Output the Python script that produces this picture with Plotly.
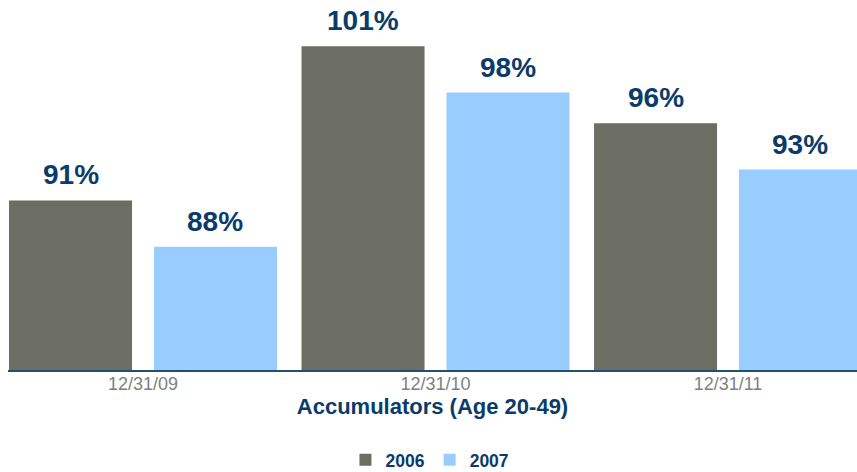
import plotly.graph_objects as go

# Funded-ratio data by valuation date
categories = ["12/31/09", "12/31/10", "12/31/11"]
series_names = ["2006", "2007"]
values_2006 = [91, 101, 96]
values_2007 = [88, 98, 93]
series_values = [values_2006, values_2007]
series_colors = ["#6C6D63", "#99CCFF"]

label_color = "#0B3B6B"
font_family = "Liberation Sans, Arial, sans-serif"

bar_width = 0.4205
bar_offsets = [-0.458, 0.0376]  # left edge of each series relative to category centre

fig = go.Figure()
for name, vals, color, off in zip(series_names, series_values, series_colors, bar_offsets):
    fig.add_trace(go.Bar(
        x=categories, y=vals, name=name,
        width=bar_width, offset=off,
        marker=dict(color=color, line=dict(width=0)),
        hoverinfo="x+y+name",
    ))

# Value labels above each bar
for vals, off in zip(series_values, bar_offsets):
    for cat, v in zip(categories, vals):
        fig.add_annotation(
            x=cat, y=v, xref="x", yref="y",
            text=f"<b>{v}%</b>", showarrow=False,
            xanchor="center", yanchor="bottom",
            xshift=(off + bar_width / 2) * 292.5, yshift=8,
            font=dict(family=font_family, size=28, color=label_color),
        )

fig.update_layout(
    width=857, height=472,
    margin=dict(l=8, r=0, t=0, b=102, autoexpand=False),
    paper_bgcolor="white", plot_bgcolor="white",
    barmode="overlay",
    showlegend=True,
    legend=dict(
        orientation="h", x=0.497, xanchor="center", y=-0.243, yanchor="middle",
        font=dict(family=font_family, size=17.5, color=label_color, weight="bold"),
        itemwidth=30, tracegroupgap=0,
    ),
    xaxis=dict(
        type="category", range=[-0.4615, 2.441], automargin=False,
        showgrid=False, zeroline=False,
        showline=True, linecolor="#22506F", linewidth=2,
        ticks="", ticklabelstandoff=-4,
        tickfont=dict(family=font_family, size=18, color="#7F7F7F"),
        title=dict(text="<b>Accumulators (Age 20-49)</b>", standoff=3,
                   font=dict(family=font_family, size=22, color=label_color)),
    ),
    yaxis=dict(
        range=[80, 104], visible=False, showgrid=False, zeroline=False,
        automargin=False,
    ),
)

fig.write_html("out.html")
